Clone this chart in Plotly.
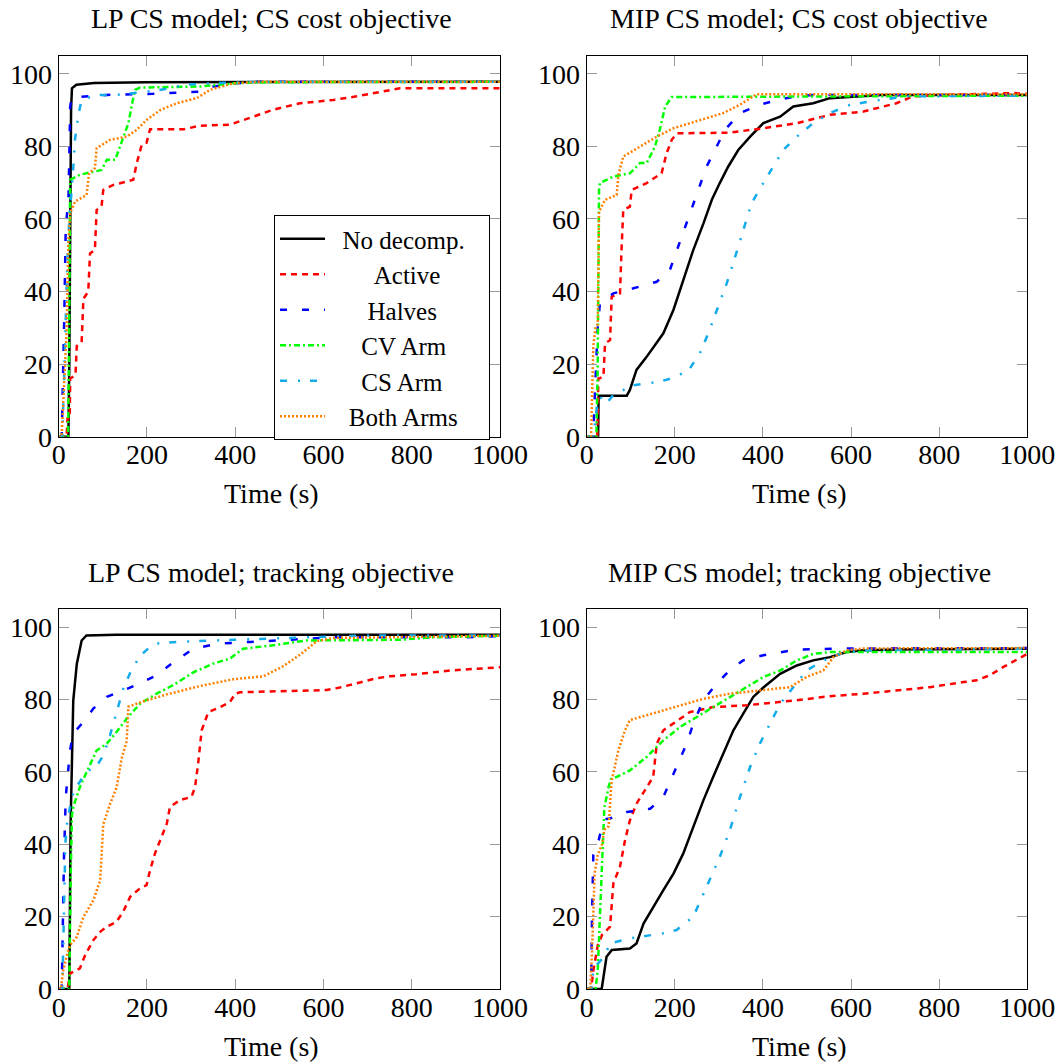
import plotly.graph_objects as go

# ---------------- data: time (s) vs. % solved ----------------
SERIES_NAMES = ["No decomp.", "Active", "Halves", "CV Arm", "CS Arm", "Both Arms"]
PANEL_TITLES = ["LP CS model; CS cost objective", "MIP CS model; CS cost objective",
                "LP CS model; tracking objective", "MIP CS model; tracking objective"]
X_TICKS = [0, 200, 400, 600, 800, 1000]
Y_TICKS = [0, 20, 40, 60, 80, 100]

# Panel 1: LP CS model; CS cost objective
LPC_NODECOMP_T = [0, 22, 24, 26, 28, 30, 40, 80, 200, 1000]
LPC_NODECOMP_P = [0, 0, 20, 60, 90, 96, 97, 97.5, 97.7, 97.8]
LPC_ACTIVE_T = [0, 18, 20, 25, 26, 38, 41, 52, 56, 67, 71, 82, 86, 97, 101, 124, 169, 177, 188, 199, 207, 282, 320, 388, 441, 486, 547, 622, 675, 728, 773, 1000]
LPC_ACTIVE_P = [0, 0, 5, 5, 16, 17, 25, 26, 38, 40, 50.5, 51.5, 62.5, 63.4, 68, 69.4, 70.8, 75.4, 80.4, 81, 84.7, 84.7, 85.7, 86, 88.2, 90.1, 91.9, 92.8, 93.8, 95.1, 96, 96]
LPC_HALVES_T = [0, 5, 7, 10.6, 12.8, 16, 22, 24, 26, 29.5, 45, 109, 214, 320, 350, 403, 441, 1000]
LPC_HALVES_P = [0, 0, 1, 17.5, 34, 58, 65, 77, 91, 93.6, 93.6, 94.2, 94.5, 95.1, 96.5, 97.4, 97.8, 97.8]
LPC_CVARM_T = [0, 21, 23, 25, 26, 48, 79, 97, 109, 128, 139, 158, 165, 173, 184, 320, 396, 471, 1000]
LPC_CVARM_P = [0, 0, 20, 55, 70.8, 72.2, 73.1, 73.5, 76.3, 76.3, 80, 86.4, 91, 95.6, 96.2, 96.5, 97.4, 97.7, 97.8]
LPC_CSARM_T = [0, 8, 12, 16, 20, 24, 28, 32, 37, 45, 52, 71, 94, 131, 222, 290, 350, 450, 1000]
LPC_CSARM_P = [0, 0, 15, 35, 50, 60, 65, 72, 82, 89, 92.8, 93.6, 94.2, 94.2, 95.4, 97, 97.4, 97.8, 97.8]
LPC_BOTH_T = [0, 5, 7, 12, 18, 22, 26, 37, 63, 69, 82, 86, 116, 154, 177, 199, 230, 267, 313, 343, 396, 450, 1000]
LPC_BOTH_P = [0, 0, 1, 15, 29, 54, 61.6, 64.8, 66.6, 72.6, 74, 79.5, 81.8, 82.7, 84.6, 87.3, 90, 91.9, 93.3, 95.6, 97.4, 97.8, 97.8]

# Panel 2: MIP CS model; CS cost objective
MIPC_NODECOMP_T = [0, 26, 27, 91, 98, 113, 136, 174, 197, 219, 242, 265, 284, 302, 321, 344, 371, 401, 439, 469, 514, 552, 628, 666, 1000]
MIPC_NODECOMP_P = [0, 0, 11.3, 11.3, 12.9, 18.4, 22, 28.5, 35, 43.2, 51.5, 58.8, 65.3, 69.9, 74.4, 79, 82.7, 86.4, 88.2, 91, 91.9, 93.3, 93.8, 94.2, 94.2]
MIPC_ACTIVE_T = [0, 24, 26.5, 38, 41.6, 53, 56.7, 75.6, 79, 83, 98, 102, 136, 170, 181, 193, 204, 325, 401, 477, 552, 628, 703, 741, 817, 968, 1000]
MIPC_ACTIVE_P = [0, 0, 16, 16.5, 25.7, 26.6, 38.6, 39.5, 51.5, 62.5, 63.4, 68, 69.9, 72.6, 78, 81.8, 83.6, 83.8, 85, 86.4, 88.7, 89.6, 91.9, 93.8, 94.2, 94.7, 94.5]
MIPC_HALVES_T = [0, 15, 18, 22, 25, 30, 60.5, 106, 159, 189, 208, 227, 250, 272, 291, 314, 348, 393, 439, 477, 514, 1000]
MIPC_HALVES_P = [0, 0, 10, 20, 30, 36.8, 39.5, 40.9, 42.7, 46, 52.4, 58.8, 67, 74.4, 79, 84.6, 89.2, 91.5, 93, 93.8, 94.2, 94.2]
MIPC_CVARM_T = [0, 22, 25, 27, 28, 30, 60.5, 98, 121, 136, 155, 166, 178, 193, 1000]
MIPC_CVARM_P = [0, 0, 20, 50, 68, 69.9, 71.7, 72.6, 75.4, 75.4, 80, 84.6, 91, 93.6, 94]
MIPC_CSARM_T = [0, 15, 20, 25, 30, 45, 60.5, 106, 166, 204, 234, 257, 276, 299, 318, 337, 355, 374, 401, 424, 446, 477, 514, 552, 598, 666, 726, 1000]
MIPC_CSARM_P = [0, 0, 5, 10, 11, 9.2, 11.5, 14.2, 15.2, 16.5, 18.8, 23, 28.5, 35.8, 42.3, 49.6, 57, 64.3, 69.9, 74.4, 79, 82.7, 86.4, 89.2, 91.5, 92.8, 93.8, 94]
MIPC_BOTH_T = [0, 10, 12, 15, 20, 25, 28, 41.6, 68, 72, 83, 121, 159, 197, 250, 310, 348, 378, 386, 1000]
MIPC_BOTH_P = [0, 0, 10, 25, 30, 31, 62, 65.3, 66.6, 72.2, 77.2, 80, 82.7, 85, 86.9, 89.2, 91.5, 93.8, 94.4, 94.4]

# Panel 3: LP CS model; tracking objective
LPT_NODECOMP_T = [0, 24, 27, 33, 41, 52, 63, 130, 1000]
LPT_NODECOMP_P = [0, 0, 45.6, 79.7, 89.8, 96.3, 97.7, 97.9, 97.9]
LPT_ACTIVE_T = [0, 20, 26, 48, 60, 78.5, 94, 109, 131, 146, 162, 184, 199, 207, 218, 233, 245, 252, 275, 301, 309, 316, 324, 339, 366, 388, 400, 411, 547, 607, 637, 683, 721, 751, 811, 887, 1000]
LPT_ACTIVE_P = [0, 0, 4.3, 5.7, 9.4, 13.5, 15.8, 17.2, 18.6, 21.3, 25.5, 27.8, 28.7, 32.8, 37.4, 42, 45.7, 50.3, 52.2, 53.1, 55.8, 62.3, 71.5, 76.5, 77.9, 79.3, 81.6, 82, 82.4, 82.6, 83.3, 84.7, 85.9, 86.4, 87, 88, 88.9]
LPT_HALVES_T = [0, 5, 7, 9, 12, 16, 22, 25.7, 33, 56, 78.5, 109, 146, 184, 222, 260, 305, 358, 434, 509, 622, 811, 924, 1000]
LPT_HALVES_P = [0, 0, 0.6, 18, 36.5, 53, 60, 66, 70.6, 73.8, 77.5, 80.7, 82.5, 84.4, 86.7, 90.3, 94, 95.4, 95.9, 96.5, 97.2, 97.2, 97.2, 97.5]
LPT_CVARM_T = [0, 24, 27, 30, 33, 48, 63, 86, 109, 131, 154, 184, 222, 260, 305, 350, 388, 418, 486, 562, 773, 849, 1000]
LPT_CVARM_P = [0, 0, 30, 48, 50.3, 55.8, 59.9, 65.9, 67.8, 71, 74.7, 78.8, 81.6, 84, 87.5, 89.9, 91.3, 94, 95, 96.3, 96.5, 97.2, 97.6]
LPT_CSARM_T = [0, 8, 10, 13, 15, 18, 29.5, 41, 63, 86, 101, 116, 131, 146, 162, 184, 215, 267, 396, 547, 698, 1000]
LPT_CSARM_P = [0, 0, 10, 30, 40, 45, 53, 56, 60, 61.6, 64.5, 70, 76.5, 82.8, 87.4, 92, 95.4, 95.9, 96.5, 97.2, 97.7, 97.7]
LPT_BOTH_T = [0, 5, 10, 15, 20, 25, 41, 56, 78.5, 94, 101, 116, 131, 143, 154, 158, 192, 245, 320, 396, 464, 509, 547, 585, 622, 1000]
LPT_BOTH_P = [0, 0, 5, 8, 10, 12, 14.4, 19.9, 24.5, 30, 45.6, 51, 55.6, 63.9, 68.5, 78, 79.5, 81.4, 83.7, 85.6, 86.4, 89.2, 92.4, 96.1, 97, 97.6]

# Panel 4: MIP CS model; tracking objective
MIPT_NODECOMP_T = [0, 34, 45, 57, 98, 113, 129, 151, 174, 197, 219, 242, 265, 287, 310, 333, 355, 378, 401, 439, 477, 514, 552, 590, 628, 703, 1000]
MIPT_NODECOMP_P = [0, 0, 8.9, 10.8, 11.2, 12.6, 18.1, 22.7, 27.3, 31.9, 37.4, 44.8, 52.2, 58.6, 65, 71.5, 76, 80.7, 83.3, 87.1, 89.4, 90.8, 91.7, 93.1, 93.6, 93.8, 94]
MIPT_ACTIVE_T = [0, 10, 15, 20, 25, 35, 50, 53, 60.5, 75.6, 87, 98, 113, 132, 151, 159, 174, 197, 234, 287, 363, 477, 552, 628, 703, 779, 855, 885, 915, 946, 1000]
MIPT_ACTIVE_P = [0, 0, 5, 8, 12, 15, 17, 17.2, 29.2, 33.8, 41.1, 46.6, 51.2, 54.9, 58.6, 67.8, 71.5, 73.4, 76.5, 77.9, 78.4, 79.8, 80.9, 81.6, 82.5, 83.4, 84.8, 85.3, 86.7, 89, 92.6]
MIPT_HALVES_T = [0, 10, 12, 15, 25, 35, 45, 53, 91, 121, 144, 174, 204, 227, 242, 265, 295, 325, 355, 401, 477, 590, 1000]
MIPT_HALVES_P = [0, 0, 20, 37, 40, 45, 47, 47.1, 48.9, 49.4, 49.8, 53.1, 61.3, 67.8, 73.4, 79.8, 84.4, 88.1, 90.8, 92.2, 93.8, 94.1, 94.2]
MIPT_CVARM_T = [0, 20, 25, 30, 35, 40, 50, 55, 68, 98, 136, 174, 212, 250, 287, 325, 363, 401, 439, 477, 514, 552, 1000]
MIPT_CVARM_P = [0, 0, 5, 20, 40, 50, 56, 58, 58.6, 60.4, 64.1, 68.7, 72.4, 75.2, 77.9, 80.7, 83.4, 86.2, 88, 90.8, 92.6, 93.1, 93.1]
MIPT_CSARM_T = [0, 10, 15, 25, 40, 53, 98, 174, 204, 242, 272, 302, 325, 348, 371, 393, 416, 439, 469, 499, 537, 575, 628, 1000]
MIPT_CSARM_P = [0, 0, 5, 7, 9, 12.6, 14, 15.4, 16.3, 20, 28.2, 36.5, 43.9, 53.1, 61.4, 67.8, 73.3, 78.8, 83.4, 88, 90.8, 92.6, 93.6, 94]
MIPT_BOTH_T = [0, 8, 12, 15, 18, 25, 35, 40, 50, 55, 57, 72, 87, 98, 136, 174, 212, 265, 325, 401, 461, 499, 537, 560, 590, 628, 1000]
MIPT_BOTH_P = [0, 0, 10, 25, 32, 37, 40, 44, 45, 55, 57.7, 66, 71.5, 74.3, 75.6, 77, 78.4, 80.2, 81.6, 82.5, 83.4, 86.2, 88, 91.7, 93.6, 94.1, 94.2]

PANELS = [
    [(LPC_NODECOMP_T, LPC_NODECOMP_P), (LPC_ACTIVE_T, LPC_ACTIVE_P), (LPC_HALVES_T, LPC_HALVES_P),
     (LPC_CVARM_T, LPC_CVARM_P), (LPC_CSARM_T, LPC_CSARM_P), (LPC_BOTH_T, LPC_BOTH_P)],
    [(MIPC_NODECOMP_T, MIPC_NODECOMP_P), (MIPC_ACTIVE_T, MIPC_ACTIVE_P), (MIPC_HALVES_T, MIPC_HALVES_P),
     (MIPC_CVARM_T, MIPC_CVARM_P), (MIPC_CSARM_T, MIPC_CSARM_P), (MIPC_BOTH_T, MIPC_BOTH_P)],
    [(LPT_NODECOMP_T, LPT_NODECOMP_P), (LPT_ACTIVE_T, LPT_ACTIVE_P), (LPT_HALVES_T, LPT_HALVES_P),
     (LPT_CVARM_T, LPT_CVARM_P), (LPT_CSARM_T, LPT_CSARM_P), (LPT_BOTH_T, LPT_BOTH_P)],
    [(MIPT_NODECOMP_T, MIPT_NODECOMP_P), (MIPT_ACTIVE_T, MIPT_ACTIVE_P), (MIPT_HALVES_T, MIPT_HALVES_P),
     (MIPT_CVARM_T, MIPT_CVARM_P), (MIPT_CSARM_T, MIPT_CSARM_P), (MIPT_BOTH_T, MIPT_BOTH_P)],
]

# ---------------- styling ----------------
W, H = 1059, 1063
FONT = "Liberation Serif"
STYLES = [
    dict(color="black", dash="solid", width=2.5),
    dict(color="#FF0000", dash="6px,5px", width=2.5),
    dict(color="#0000FF", dash="7px,15px", width=2.5),
    dict(color="#00FF00", dash="6px,3px,2px,3px", width=2.5),
    dict(color="#14ABEB", dash="7px,11px,2px,10px", width=2.5),
    dict(color="#FF8000", dash="2px,2px", width=2.5),
]
# legend labels are centred in the reference box (leading / trailing no-break spaces)
LEGEND_PAD_L = [2, 7, 6, 5, 5, 3]
LEGEND_PAD_R = [3, 0, 0, 0, 0, 0]


def px_x(p):
    return p / W


def px_y(p):
    return 1 - p / H


# axis boxes in page pixels: (left, right, top, bottom)
BOXES = [(58.7, 500.0, 55.7, 436.7), (586.7, 1027.3, 55.7, 436.7),
         (58.7, 500.0, 609.0, 989.0), (586.7, 1027.3, 609.0, 989.0)]

fig = go.Figure()
layout = dict(width=W, height=H, margin=dict(l=0, r=0, t=0, b=0, pad=0),
              paper_bgcolor="white", plot_bgcolor="white",
              font=dict(family=FONT, size=27, color="black"),
              annotations=[])

for i, (panel, box) in enumerate(zip(PANELS, BOXES)):
    k = "" if i == 0 else str(i + 1)
    l, r, t, b = box
    ax = dict(showline=True, linecolor="black", linewidth=1, mirror="ticks",
              ticks="inside", ticklen=10, tickcolor="#999999", tickwidth=1,
              showgrid=False, zeroline=False, automargin=False,
              tickfont=dict(family=FONT, size=28))
    layout["xaxis" + k] = dict(ax, domain=[px_x(l), px_x(r)], range=[0, 1000],
                               tickvals=X_TICKS, anchor="y" + k, ticklabelstandoff=-7)
    layout["yaxis" + k] = dict(ax, domain=[px_y(b), px_y(t)], range=[0, 105],
                               tickvals=Y_TICKS, anchor="x" + k)
    for j, (tt, pp) in enumerate(panel):
        st = STYLES[j]
        label = "\u00a0" * LEGEND_PAD_L[j] + SERIES_NAMES[j] + "\u00a0" * LEGEND_PAD_R[j]
        fig.add_trace(go.Scatter(
            x=tt, y=pp, mode="lines", name=label,
            line=dict(color=st["color"], dash=st["dash"], width=st["width"]),
            xaxis="x" + k, yaxis="y" + k, showlegend=(i == 0)))
    cx = (l + r) / 2 - 8
    layout["annotations"].append(dict(
        text=PANEL_TITLES[i], x=px_x(cx), y=px_y(t - 37), xref="paper", yref="paper",
        showarrow=False, xanchor="center", yanchor="middle",
        font=dict(family=FONT, size=28)))
    layout["annotations"].append(dict(
        text="Time (s)", x=px_x(cx), y=px_y(b + 57), xref="paper", yref="paper",
        showarrow=False, xanchor="center", yanchor="middle",
        font=dict(family=FONT, size=28)))

layout["legend"] = dict(x=px_x(274), y=px_y(215), xanchor="left", yanchor="top",
                        bordercolor="black", borderwidth=1, bgcolor="white",
                        font=dict(family=FONT, size=25), itemwidth=45,
                        tracegroupgap=0)
fig.update_layout(**layout)
# let the figure fill the window exactly (no default 8px page margin, no scrollbars)
fig.write_html("out.html",
               config={"displayModeBar": False},
               post_script="document.body.style.margin='0px';"
                           "document.documentElement.style.overflow='hidden';"
                           "document.body.style.overflow='hidden';")
